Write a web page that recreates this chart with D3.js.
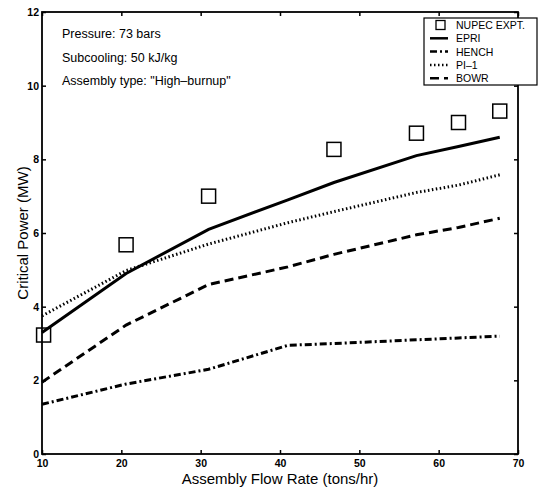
<!DOCTYPE html>
<html>
<head>
<meta charset="utf-8">
<script src="https://cdn.jsdelivr.net/npm/d3@7"></script>
<style>
  body { margin: 0; background: #fff; }
  text { font-family: "Liberation Sans", Arial, sans-serif; fill: #000; }
</style>
</head>
<body>
<svg width="544" height="488"></svg>
<script>
// Data
const expFlow = [10.2, 20.6, 31, 46.8, 57.2, 62.5, 67.7];
const expPower = [3.23, 5.68, 7.0, 8.27, 8.71, 9.0, 9.31];

const lineFlow = [10, 20.6, 31, 41, 46.8, 57.2, 62.5, 67.7];
const epri  = [3.3, 4.9, 6.1, 6.9, 7.37, 8.1, 8.35, 8.6];
const hench = [1.35, 1.9, 2.3, 2.95, 3.0, 3.1, 3.15, 3.2];
const pi1   = [3.75, 4.98, 5.7, 6.28, 6.58, 7.1, 7.3, 7.58];
const bowr  = [1.95, 3.5, 4.6, 5.08, 5.42, 5.95, 6.15, 6.4];

const xTicks = [10, 20, 30, 40, 50, 60, 70];
const yTicks = [0, 2, 4, 6, 8, 10, 12];
const notes = ["Pressure: 73 bars", "Subcooling: 50 kJ/kg", "Assembly type: \"High\u2013burnup\""];

const series = [
  { name: "EPRI", values: epri, dash: null },
  { name: "HENCH", values: hench, dash: "7,3,2,3" },
  { name: "PI\u20131", values: pi1, dash: "1.5,2.5" },
  { name: "BOWR", values: bowr, dash: "9,5" }
];

// Plot area
const margin = { top: 12, right: 26, bottom: 34, left: 42 },
      width = 544 - margin.left - margin.right,
      height = 488 - margin.top - margin.bottom;

const svg = d3.select("svg");
const g = svg.append("g").attr("transform", `translate(${margin.left},${margin.top})`);

const x = d3.scaleLinear().domain([10, 70]).range([0, width]);
const y = d3.scaleLinear().domain([0, 12]).range([height, 0]);

// Axes, ticks pointing inward on all sides
const tickLen = 4;
g.append("g").attr("transform", `translate(0,${height})`)
  .call(d3.axisBottom(x).tickValues(xTicks).tickSizeInner(-tickLen).tickSizeOuter(0).tickPadding(6))
  .call(a => a.select(".domain").remove());
g.append("g")
  .call(d3.axisTop(x).tickValues(xTicks).tickSizeInner(-tickLen).tickSizeOuter(0).tickFormat(""))
  .call(a => a.select(".domain").remove());
g.append("g")
  .call(d3.axisLeft(y).tickValues(yTicks).tickSizeInner(-tickLen).tickSizeOuter(0).tickPadding(3))
  .call(a => a.select(".domain").remove());
g.append("g").attr("transform", `translate(${width},0)`)
  .call(d3.axisRight(y).tickValues(yTicks).tickSizeInner(-tickLen).tickSizeOuter(0).tickFormat(""))
  .call(a => a.select(".domain").remove());

g.selectAll(".tick line").attr("stroke", "#000").attr("stroke-width", 1.5);
g.selectAll(".tick text").attr("font-size", 10.5).attr("font-weight", "bold")
  .attr("font-family", "\"Liberation Sans\", Arial, sans-serif");

// Frame
g.append("rect").attr("width", width).attr("height", height)
  .attr("fill", "none").attr("stroke", "#000").attr("stroke-width", 1.8);

// Model curves
const line = d3.line().x((d, i) => x(lineFlow[i])).y(d => y(d));
series.forEach(s => {
  g.append("path")
    .attr("d", line(s.values))
    .attr("fill", "none")
    .attr("stroke", "#000")
    .attr("stroke-width", 3)
    .attr("stroke-dasharray", s.dash);
});

// Experimental points
const sq = 14;
g.selectAll(".exp")
  .data(expFlow)
  .enter().append("rect")
  .attr("class", "exp")
  .attr("x", d => x(d) - sq / 2)
  .attr("y", (d, i) => y(expPower[i]) - sq / 2)
  .attr("width", sq).attr("height", sq)
  .attr("fill", "none").attr("stroke", "#000").attr("stroke-width", 1.5);

// Condition notes
g.selectAll(".note")
  .data(notes)
  .enter().append("text")
  .attr("x", 20)
  .attr("y", (d, i) => 26 + i * 23.5)
  .attr("font-size", 12.5)
  .text(d => d);

// Legend
const legend = svg.append("g").attr("transform", "translate(424,18)");
legend.append("rect").attr("width", 113).attr("height", 67)
  .attr("fill", "#fff").attr("stroke", "#000").attr("stroke-width", 1.2);
const legendItems = [{ name: "NUPEC EXPT.", marker: true }].concat(series);
legendItems.forEach((d, i) => {
  const ly = 7 + i * 13.3;
  if (d.marker) {
    legend.append("rect").attr("x", 12).attr("y", ly - 4.5).attr("width", 9).attr("height", 9)
      .attr("fill", "none").attr("stroke", "#000").attr("stroke-width", 1.3);
  } else {
    legend.append("line").attr("x1", 6).attr("x2", 24).attr("y1", ly).attr("y2", ly)
      .attr("stroke", "#000").attr("stroke-width", 2.5).attr("stroke-dasharray", d.dash);
  }
  legend.append("text").attr("x", 32).attr("y", ly + 4)
    .attr("font-size", 10.5).text(d.name);
});

// Axis labels
svg.append("text")
  .attr("x", margin.left + width / 2).attr("y", 484)
  .attr("text-anchor", "middle").attr("font-size", 15)
  .text("Assembly Flow Rate (tons/hr)");
svg.append("text")
  .attr("transform", `translate(28,${margin.top + height / 2}) rotate(-90)`)
  .attr("text-anchor", "middle").attr("font-size", 15)
  .text("Critical Power (MW)");
</script>
</body>
</html>
